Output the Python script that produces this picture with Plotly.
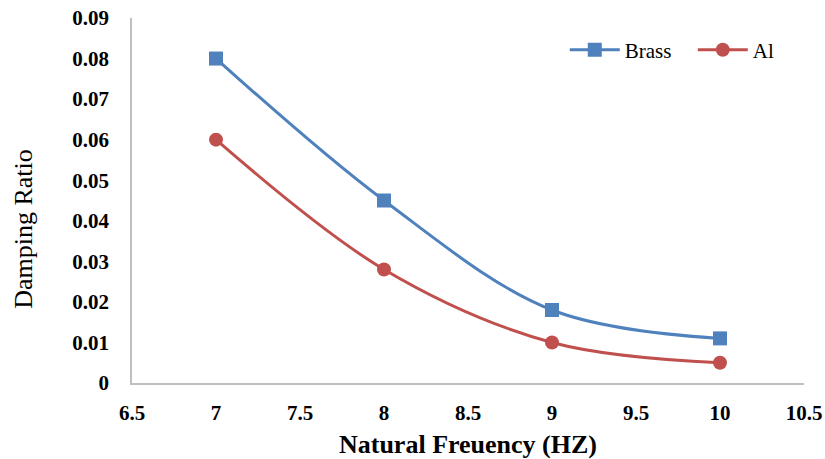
import plotly.graph_objects as go

freq = [7, 8, 9, 10]
brass = [0.080, 0.045, 0.018, 0.011]
al = [0.060, 0.028, 0.010, 0.005]

x_ticks = [6.5, 7, 7.5, 8, 8.5, 9, 9.5, 10, 10.5]
y_ticks = [0, 0.01, 0.02, 0.03, 0.04, 0.05, 0.06, 0.07, 0.08, 0.09]
x_labels = ["6.5", "7", "7.5", "8", "8.5", "9", "9.5", "10", "10.5"]
y_labels = ["0", "0.01", "0.02", "0.03", "0.04", "0.05", "0.06", "0.07", "0.08", "0.09"]

FONT = "Liberation Serif"

fig = go.Figure()
fig.add_trace(go.Scatter(
    x=freq, y=brass, name="Brass", mode="lines+markers",
    line=dict(color="#4F81BD", width=3, shape="spline", smoothing=1.0),
    marker=dict(symbol="square", size=14, color="#4F81BD"),
))
fig.add_trace(go.Scatter(
    x=freq, y=al, name="Al", mode="lines+markers",
    line=dict(color="#C0504D", width=3, shape="spline", smoothing=1.0),
    marker=dict(symbol="circle", size=14, color="#C0504D"),
))

fig.update_layout(
    width=825, height=459,
    margin=dict(l=132, r=21, t=18, b=76, autoexpand=False),
    paper_bgcolor="white", plot_bgcolor="white",
    font=dict(family=FONT, color="black"),
    showlegend=True,
    legend=dict(
        orientation="h", x=0.644, y=0.912, xanchor="left", yanchor="middle",
        font=dict(family=FONT, size=21, color="black"),
        bgcolor="rgba(0,0,0,0)", itemwidth=50, tracegroupgap=0,
        entrywidth=63, entrywidthmode="pixels",
    ),
    xaxis=dict(
        range=[6.5, 10.5], tickvals=x_ticks,
        ticktext=["<b>%s</b>" % t for t in x_labels],
        showgrid=False, zeroline=False, automargin=False,
        showline=True, linecolor="#BFBFBF", linewidth=1.5,
        ticks="", ticklabelstandoff=10,
        tickfont=dict(family=FONT, size=21, color="black"),
        title=dict(text="<b>Natural Freuency (HZ)</b>", standoff=18,
                   font=dict(family=FONT, size=26, color="black")),
    ),
    yaxis=dict(
        range=[0, 0.09], tickvals=y_ticks,
        ticktext=["<b>%s</b>" % t for t in y_labels],
        showgrid=False, zeroline=False, automargin=False,
        showline=True, linecolor="#BFBFBF", linewidth=1.5,
        ticks="", ticklabelstandoff=17,
        tickfont=dict(family=FONT, size=21, color="black"),
    ),
    annotations=[dict(
        text="Damping Ratio", textangle=-90,
        xref="paper", yref="paper", x=-0.161, y=0.422,
        xanchor="center", yanchor="middle", showarrow=False,
        font=dict(family=FONT, size=26, color="black"),
    )],
)

fig.write_html("out.html")
